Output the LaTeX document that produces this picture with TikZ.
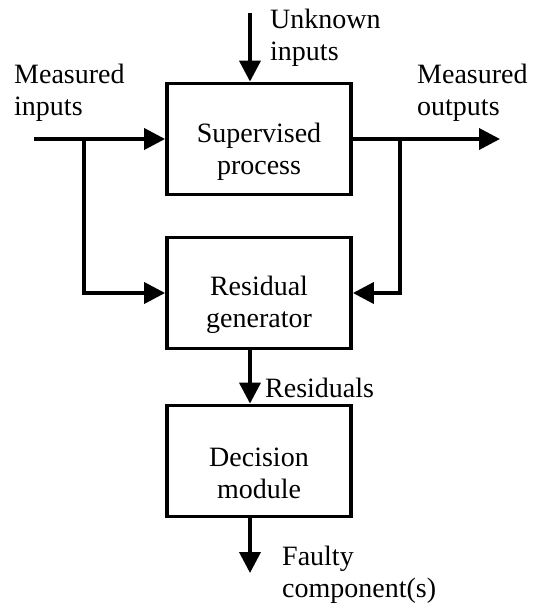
\documentclass[tikz,border=0pt]{standalone}
\usepackage{fontspec}
\setmainfont{Liberation Serif}
\usetikzlibrary{arrows.meta}
\begin{document}
\begin{tikzpicture}[x=1pt,y=-1pt,
  box/.style={draw,line width=3.8pt,minimum width=184pt,minimum height=111pt,align=center,inner sep=0pt,font=\fontsize{28}{32}\selectfont},
  lbl/.style={anchor=north west,inner sep=0pt,align=left,font=\fontsize{28}{32}\selectfont},
  wire/.style={line width=3.8pt},
  arr/.style={wire,-{Triangle[length=21pt,width=21pt]}}]
\useasboundingbox (0,0) rectangle (539,605);
\node[box] (sp) at (259,139) {\rule{0pt}{44pt}Supervised\\process};
\node[box] (rg) at (259,293) {\rule{0pt}{44pt}Residual\\generator};
\node[box] (dm) at (259,461) {\rule{0pt}{44pt}Decision\\module};
\coordinate (ui) at (250,13);
\coordinate (mi) at (34,139);
\coordinate (bl) at (84,139);
\coordinate (mo) at (500,139);
\coordinate (br) at (400,139);
\coordinate (fc) at (250,573);
\draw[arr] (ui) -- (ui |- sp.north);
\draw[arr] (mi) -- (sp.west);
\draw[arr] (bl) |- (rg.west);
\draw[arr] (sp.east) -- (mo);
\draw[arr] (br) |- (rg.east);
\draw[arr] (rg.south -| ui) -- (dm.north -| ui);
\draw[arr] (dm.south -| ui) -- (fc);
\node[lbl] (lu) at (270,9) {Unknown\\inputs};
\node[lbl] (lmi) at (14,64) {Measured\\inputs};
\node[lbl] (lmo) at (417,64) {Measured\\outputs};
\node[lbl] (lr) at (265,378) {Residuals};
\node[lbl] (lf) at (282,546) {Faulty\\component(s)};
\end{tikzpicture}
\end{document}
